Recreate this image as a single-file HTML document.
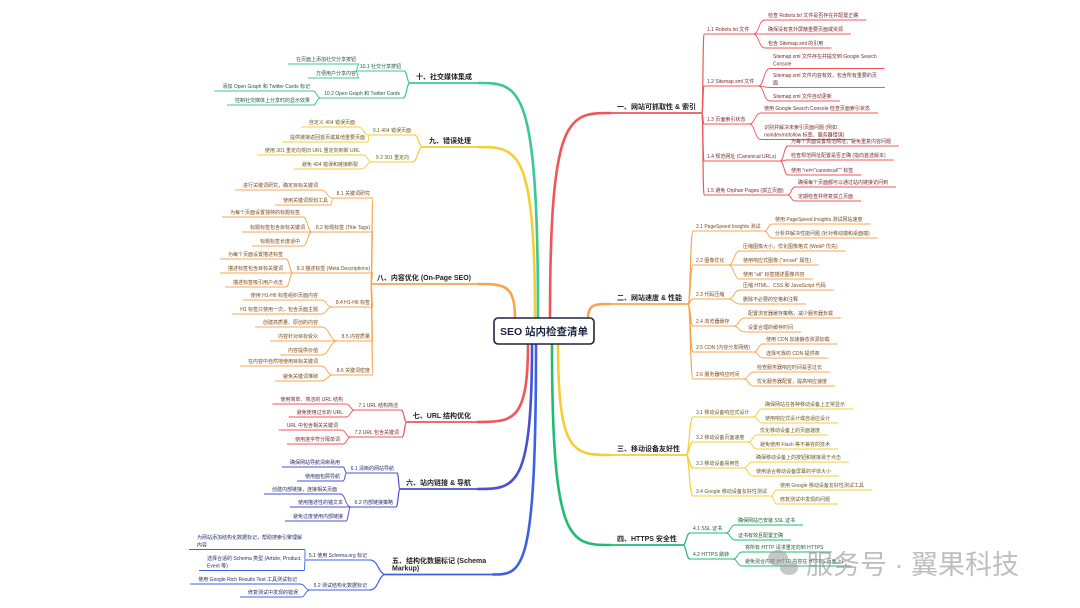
<!DOCTYPE html>
<html><head><meta charset="utf-8">
<style>
html,body{margin:0;padding:0;background:#fff;width:1080px;height:608px;overflow:hidden}
svg{display:block}
text{font-family:"Liberation Sans","Noto Sans CJK SC",sans-serif}
</style></head>
<body>
<svg id="s" width="1080" height="608" viewBox="0 0 1080 608" xmlns="http://www.w3.org/2000/svg">
<g id="lines" fill="none"></g>
<g id="texts"></g>
<g>
<rect x="494" y="318" width="100" height="26" rx="4" fill="#fff" stroke="#1e2340" stroke-width="1.6"/>
<text x="544" y="335" font-size="10.5" font-weight="bold" text-anchor="middle" fill="#1e2340">SEO 站内检查清单</text>
</g>
<g opacity="0.55">
<ellipse cx="778" cy="558" rx="10" ry="8" fill="#9a9a9a"/>
<ellipse cx="789" cy="568" rx="9" ry="7" fill="#9a9a9a"/>
<text x="806" y="574" font-size="27" fill="#8a8a8a">服务号 · 翼果科技</text>
</g>
</svg>
<script>
var NS="http://www.w3.org/2000/svg";
var L=document.getElementById('lines'),T=document.getElementById('texts');
function el(t,a,p){var e=document.createElementNS(NS,t);for(var k in a)e.setAttribute(k,a[k]);p.appendChild(e);return e;}
function txt(str,x,y,fs,fill,bold,anchor){
  var lines=str.split('|');var w=0;
  for(var i=0;i<lines.length;i++){
    var t=el('text',{x:x,y:y+i*7.5,'font-size':fs,fill:fill,'text-anchor':anchor||'start'},T);
    if(bold)t.setAttribute('font-weight','bold');
    t.textContent=lines[i];w=Math.max(w,t.getComputedTextLength());
  }
  return {w:w,n:lines.length};
}
function curve(x1,y1,x2,y2,c,w){
  var mx=x1+(x2-x1)*0.5;
  el('path',{d:'M'+x1+' '+y1+' C'+mx+' '+y1+' '+(x1+(x2-x1)*0.45)+' '+y2+' '+x2+' '+y2,stroke:c,'stroke-width':w},L);
}
function mainCurve(ox,oy,tx,ty,c){
  el('path',{d:'M'+ox+' '+oy+' C'+ox+' '+ty+' '+(ox+(tx-ox)*0.3)+' '+ty+' '+tx+' '+ty,stroke:c,'stroke-width':2.6},L);
}
function line(x1,y,x2,c,w){el('line',{x1:x1,y1:y,x2:x2,y2:y,stroke:c,'stroke-width':w},L);}

var R=[
 ['一、网站可抓取性 & 索引',617,109,'#f0555b','#7a2a2a',[550,318],[
   ['1.1 Robots.txt 文件',707,31,[['检查 Robots.txt 文件是否存在并配置正确',768,17],['确保没有意外屏蔽重要页面或资源',768,31],['包含 Sitemap.xml 的引用',768,45]]],
   ['1.2 Sitemap.xml 文件',707,83,[['Sitemap.xml 文件存在并提交到 Google Search|Console',773,58],['Sitemap.xml 文件内容有效，包含所有重要的页|面',773,77],['Sitemap.xml 文件自动更新',773,98]]],
   ['1.3 页面索引状态',707,121,[['使用 Google Search Console 检查页面索引状态',764,110],['识别并解决未索引页面问题 (例如|noindex/nofollow 标签、服务器错误)',764,129]]],
   ['1.4 规范网址 (Canonical URLs)',707,158,[['为每个页面设置规范网址，避免重复内容问题',791,143],['检查规范网址配置是否正确 (指向首选版本)',791,157],['使用 "rel=\\"canonical\\"" 标签',791,172]]],
   ['1.5 避免 Orphan Pages (孤立页面)',707,192,[['确保每个页面都可以通过站内链接访问到',798,184],['定期检查并修复孤立页面',798,198]]]
 ]],
 ['二、网站速度 & 性能',617,300,'#f9a44c','#7a4a1a',[588,318],[
   ['2.1 PageSpeed Insights 测试',696,228,[['使用 PageSpeed Insights 测试网站速度',775,221],['分析并解决性能问题 (针对移动端和桌面端)',775,235]]],
   ['2.2 图像优化',696,262,[['压缩图像大小，优化图像格式 (WebP 优先)',743,248],['使用响应式图像 ("srcset" 属性)',743,262],['使用 "alt" 标签描述图像内容',743,276]]],
   ['2.3 代码压缩',696,296,[['压缩 HTML、CSS 和 JavaScript 代码',743,287],['删除不必要的空格和注释',743,301]]],
   ['2.4 浏览器缓存',696,323,[['配置浏览器缓存策略，减少服务器负载',748,315],['设置合理的缓存时间',748,329]]],
   ['2.5 CDN (内容分发网络)',696,349,[['使用 CDN 加速静态资源加载',766,341],['选择可靠的 CDN 提供商',766,355]]],
   ['2.6 服务器响应时间',696,376,[['检查服务器响应时间是否过长',757,369],['优化服务器配置，提高响应速度',757,383]]]
 ]],
 ['三、移动设备友好性',617,451,'#f5cd35','#6a5a1a',[558,344],[
   ['3.1 移动设备响应式设计',696,414,[['确保网站在各种移动设备上正常显示',765,406],['使用响应式设计或自适应设计',765,420]]],
   ['3.2 移动设备页面速度',696,439,[['优化移动设备上的页面速度',760,432],['避免使用 Flash 等不兼容的技术',760,446]]],
   ['3.3 移动设备易用性',696,465,[['确保移动设备上的按钮和链接易于点击',756,459],['使用适合移动设备屏幕的字体大小',756,473]]],
   ['3.4 Google 移动设备友好性测试',696,493,[['使用 Google 移动设备友好性测试工具',780,487],['修复测试中发现的问题',780,501]]]
 ]],
 ['四、HTTPS 安全性',617,541,'#1ebd72','#1a5a3a',[552,344],[
   ['4.1 SSL 证书',693,530,[['确保网站已安装 SSL 证书',738,522],['证书有效且配置正确',738,537]]],
   ['4.2 HTTPS 跳转',693,556,[['将所有 HTTP 请求重定向到 HTTPS',745,549],['避免混合内容 (HTTP 内容在 HTTPS 页面上)',745,563]]]
 ]]
];
var Lf=[
 ['十、社交媒体集成',472,79,'#3cc796','#1a5a44',[538,318],[
   ['10.1 社交分享按钮',401,68,[['在页面上添加社交分享按钮',356,61],['方便用户分享内容',356,75]]],
   ['10.2 Open Graph 和 Twitter Cards',400,95,[['添加 Open Graph 和 Twitter Cards 标记',310,88],['控制社交媒体上分享时的显示效果',310,102]]]
 ]],
 ['九、错误处理',471,143,'#f5cd35','#6a5a1a',[535,318],[
   ['9.1 404 错误页面',411,132,[['自定义 404 错误页面',355,124],['提供链接返回首页或其他重要页面',365,139]]],
   ['9.2 301 重定向',409,159,[['使用 301 重定向将旧 URL 重定向到新 URL',360,152],['避免 404 错误和链接断裂',358,166]]]
 ]],
 ['八、内容优化 (On-Page SEO)',471,280,'#f9a44c','#7a4a1a',[515,318],[
   ['8.1 关键词研究',370,195,[['进行关键词研究，确定目标关键词',318,187],['使用关键词规划工具',328,202]]],
   ['8.2 标题标签 (Title Tags)',370,229,[['为每个页面设置独特的标题标签',300,214],['标题标签包含目标关键词',305,229],['标题标签长度适中',300,243]]],
   ['8.3 描述标签 (Meta Descriptions)',370,270,[['为每个页面设置描述标签',283,256],['描述标签包含目标关键词',283,270],['描述标签吸引用户点击',283,284]]],
   ['8.4 H1-H6 标签',370,304,[['使用 H1-H6 标签组织页面内容',318,297],['H1 标签只使用一次，包含页面主题',318,311]]],
   ['8.5 内容质量',370,338,[['创建高质量、原创的内容',318,324],['内容针对目标受众',318,338],['内容提供价值',318,352]]],
   ['8.6 关键词密度',370,372,[['在内容中自然地使用目标关键词',318,363],['避免关键词堆砌',318,378]]]
 ]],
 ['七、URL 结构优化',471,418,'#f0555b','#7a2a2a',[528,344],[
   ['7.1 URL 结构简洁',398,407,[['使用简单、简洁的 URL 结构',343,401],['避免使用过长的 URL',343,414]]],
   ['7.2 URL 包含关键词',399,434,[['URL 中包含相关关键词',338,427],['使用连字符分隔单词',340,441]]]
 ]],
 ['六、站内链接 & 导航',471,485,'#4a4fd0','#2a2a6a',[532,344],[
   ['6.1 清晰的网站导航',394,470,[['确保网站导航清晰易用',340,464],['使用面包屑导航',340,478]]],
   ['6.2 内部链接策略',393,504,[['创建内部链接，连接相关页面',337,491],['使用描述性的锚文本',343,504],['避免过度使用内部链接',343,518]]]
 ]],
 ['五、结构化数据标记 (Schema|Markup)',392,563,'#3b62e6','#22306a',[536,344],[
   ['5.1 使用 Schema.org 标记',367,557,[['为网站添加结构化数据标记，帮助搜索引擎理解|内容',197,539],['选择合适的 Schema 类型 (Article, Product,|Event 等)',207,560]]],
   ['5.2 测试结构化数据标记',367,587,[['使用 Google Rich Results Test 工具测试标记',297,581],['修复测试中发现的错误',298,594]]]
 ]]
];
R.forEach(function(b){
  var c=b[3],tc=b[4];
  var m=txt(b[0],b[1],b[2],7,'#222',true);
  var uy=b[2]+4, x1=b[1]-6, x2=b[1]+m.w+6;
  line(x1,uy,x2,c,1.8);
  mainCurve(b[5][0],b[5][1],x1,uy,c);
  b[6].forEach(function(s){
    var ms=txt(s[0],s[1],s[2],5,tc,false);
    var sy=s[2]+3, sx1=s[1]-3, sx2=s[1]+ms.w+4;
    line(sx1,sy,sx2,c,1);
    curve(x2,uy,sx1,sy,c,1.2);
    s[3].forEach(function(l){
      var ml=txt(l[0],l[1],l[2],5,tc,false);
      var ly=l[2]+3+(ml.n-1)*7.5, lx1=l[1]-3, lx2=l[1]+ml.w+8;
      line(lx1,ly,lx2,c,0.9);
      curve(sx2,sy,lx1,ly,c,0.9);
    });
  });
});
Lf.forEach(function(b){
  var c=b[3],tc=b[4];
  var lines=b[0].split('|');
  var m;
  if(lines.length>1){m=txt(b[0],b[1],b[2],7,'#222',true,'start');}
  else m=txt(b[0],b[1],b[2],7,'#222',true,'end');
  var uy=b[2]+4+(m.n-1)*7.5;
  var x2=(lines.length>1)?b[1]+m.w+6:b[1]+6;
  var x1=(lines.length>1)?b[1]-6:b[1]-m.w-6;
  line(x1,uy,x2,c,1.8);
  mainCurve(b[5][0],b[5][1],x2,uy,c);
  b[6].forEach(function(s){
    var ms=txt(s[0],s[1],s[2],5,tc,false,'end');
    var sy=s[2]+3, sx2=s[1]+3, sx1=s[1]-ms.w-4;
    line(sx1,sy,sx2,c,1);
    curve(x1,uy,sx2,sy,c,1.2);
    s[3].forEach(function(l){
      var multi=l[0].indexOf('|')>=0;
      var ml, lx1, lx2;
      if(multi){ml=txt(l[0],l[1],l[2],5,tc,false,'start');lx1=l[1]-8;lx2=l[1]+ml.w+3;}
      else{ml=txt(l[0],l[1],l[2],5,tc,false,'end');lx2=l[1]+3;lx1=l[1]-ml.w-8;}
      var ly=l[2]+3+(ml.n-1)*7.5;
      line(lx1,ly,lx2,c,0.9);
      curve(sx1,sy,lx2,ly,c,0.9);
    });
  });
});
</script>
</body></html>
